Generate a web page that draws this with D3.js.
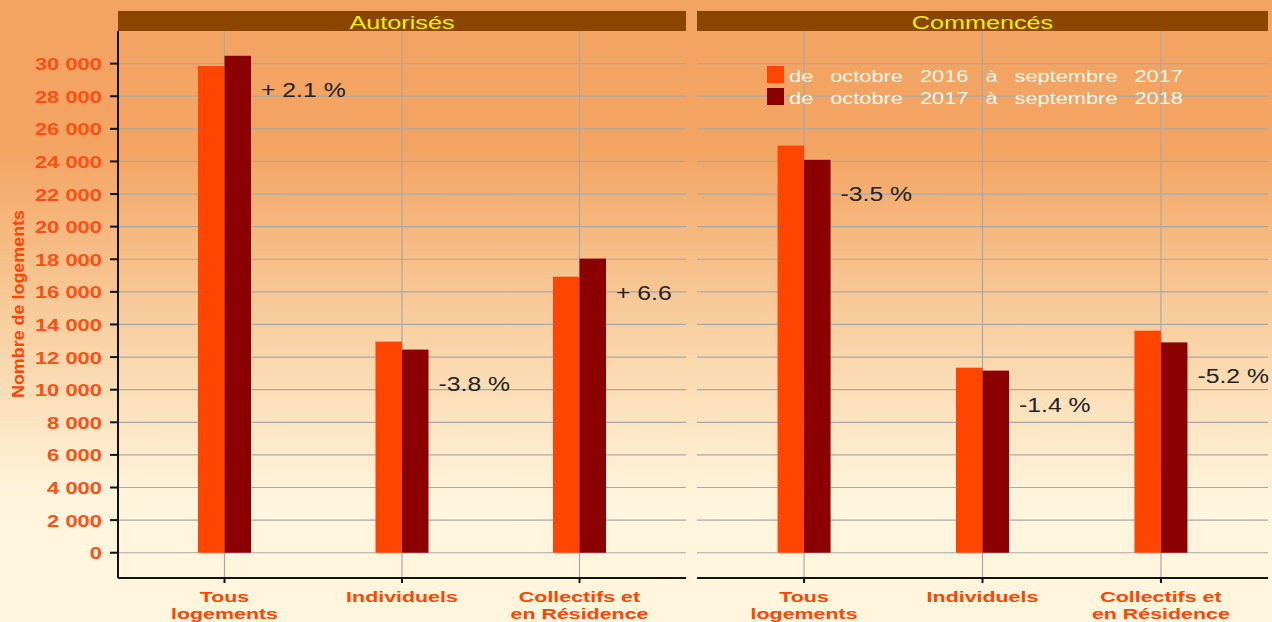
<!DOCTYPE html>
<html>
<head>
<meta charset="utf-8">
<script src="https://cdn.jsdelivr.net/npm/d3@7"></script>
<style>
  body { margin: 0; padding: 0; overflow: hidden; }
  svg { display: block; font-family: "Liberation Sans", Arial, sans-serif; }
</style>
</head>
<body>
<svg id="chart"></svg>
<script>
// data
const categories = ['Tous logements', 'Individuels', 'Collectifs et en Résidence'];
const catLines = [['Tous', 'logements'], ['Individuels'], ['Collectifs et', 'en Résidence']];
const seriesNames = ['de octobre 2016 à septembre 2017', 'de octobre 2017 à septembre 2018'];
const seriesColors = ['#ff4500', '#8b0000'];
const panels = ['Autorisés', 'Commencés'];
const autorises1617 = [29850, 12950, 16930];
const autorises1718 = [30480, 12460, 18040];
const commences1617 = [24970, 11350, 13620];
const commences1718 = [24100, 11170, 12900];
const autorisesPct = ['+ 2.1 %', '-3.8 %', '+ 6.6 %'];
const commencesPct = ['-3.5 %', '-1.4 %', '-5.2 %'];
const yTicks = d3.range(0, 30001, 2000);

const width = 1272;
const height = 622;

const svg = d3.select('#chart')
  .attr('width', width)
  .attr('height', height);

// the original picture has wide, stretched lettering
function stretch(sel, sx) {
  sel.each(function() {
    const len = this.getComputedTextLength();
    d3.select(this)
      .attr('textLength', len * sx)
      .attr('lengthAdjust', 'spacingAndGlyphs');
  });
}

// background gradient
const defs = svg.append('defs');
const grad = defs.append('linearGradient')
  .attr('id', 'bg')
  .attr('x1', 0).attr('y1', 0).attr('x2', 0).attr('y2', 1);
grad.append('stop').attr('offset', '0%').attr('stop-color', '#f3a462');
grad.append('stop').attr('offset', '24%').attr('stop-color', '#f3a462');
grad.append('stop').attr('offset', '55%').attr('stop-color', '#f9d3a6');
grad.append('stop').attr('offset', '80%').attr('stop-color', '#fff5dc');
grad.append('stop').attr('offset', '100%').attr('stop-color', '#fff6dd');

svg.append('rect')
  .attr('width', width)
  .attr('height', height)
  .attr('fill', 'url(#bg)');

const plotTop = 31;
const plotBottom = 578;
const y = d3.scaleLinear().domain([-1550, 32000]).range([plotBottom, plotTop]);

const loc = d3.formatLocale({ decimal: ',', thousands: ' ', grouping: [3], currency: ['', ''] });
const fmt = loc.format(',');

const panelDefs = [
  { title: panels[0], x0: 118, x1: 686, v1: autorises1617, v2: autorises1718, pct: autorisesPct, clipW: 561 },
  { title: panels[1], x0: 697, x1: 1268, v1: commences1617, v2: commences1718, pct: commencesPct, clipW: 575 }
];

panelDefs.forEach(function(p, i) {
  const w = p.x1 - p.x0;
  const x = d3.scalePoint().domain(categories).range([0, w]).padding(0.6);
  const xs = d3.scaleBand().domain(seriesNames).range([-26.5, 26.5]);

  defs.append('clipPath').attr('id', 'clip' + i)
    .append('rect')
    .attr('x', 0).attr('y', plotTop).attr('width', p.clipW).attr('height', plotBottom - plotTop);

  const g = svg.append('g').attr('transform', 'translate(' + p.x0 + ',0)');

  // header strip
  g.append('rect')
    .attr('x', 0).attr('y', 11)
    .attr('width', w).attr('height', 20)
    .attr('fill', '#8b4500');
  g.append('text')
    .attr('x', w / 2).attr('y', 29)
    .attr('text-anchor', 'middle')
    .attr('font-size', 18)
    .attr('fill', '#f0f000')
    .text(p.title)
    .call(stretch, 1.4);

  // grid
  g.selectAll('.hgrid')
    .data(yTicks)
    .enter()
    .append('line')
    .attr('x1', 0).attr('x2', w)
    .attr('y1', function(d) { return y(d); })
    .attr('y2', function(d) { return y(d); })
    .attr('stroke', '#a8a8a8')
    .attr('stroke-width', 1.2);

  g.selectAll('.vgrid')
    .data(categories)
    .enter()
    .append('line')
    .attr('x1', function(d) { return x(d); })
    .attr('x2', function(d) { return x(d); })
    .attr('y1', plotTop).attr('y2', plotBottom)
    .attr('stroke', '#a8a8a8')
    .attr('stroke-width', 1.2);

  // bars
  const rows = [p.v1, p.v2];
  rows.forEach(function(vals, s) {
    g.selectAll('.bar' + s)
      .data(categories)
      .enter()
      .append('rect')
      .attr('x', function(d) { return x(d) + xs(seriesNames[s]); })
      .attr('width', xs.bandwidth())
      .attr('y', function(d, k) { return y(vals[k]); })
      .attr('height', function(d, k) { return y(0) - y(vals[k]); })
      .attr('fill', seriesColors[s]);
  });

  // change labels
  g.append('g')
    .attr('clip-path', 'url(#clip' + i + ')')
    .selectAll('text')
    .data(categories)
    .enter()
    .append('text')
    .attr('x', function(d) { return x(d) + 26.5 + 10; })
    .attr('y', function(d, k) { return y(p.v2[k]) + 41; })
    .attr('font-size', 19.5)
    .attr('fill', '#222')
    .text(function(d, k) { return p.pct[k]; })
    .call(stretch, 1.27);

  // x axis
  g.append('line')
    .attr('x1', 0).attr('x2', w)
    .attr('y1', plotBottom).attr('y2', plotBottom)
    .attr('stroke', '#111').attr('stroke-width', 2);
  g.selectAll('.xtick')
    .data(categories)
    .enter()
    .append('line')
    .attr('x1', function(d) { return x(d); })
    .attr('x2', function(d) { return x(d); })
    .attr('y1', plotBottom).attr('y2', plotBottom + 5)
    .attr('stroke', '#111').attr('stroke-width', 2);

  categories.forEach(function(c, k) {
    g.selectAll(null)
      .data(catLines[k])
      .enter()
      .append('text')
      .attr('x', x(c))
      .attr('y', function(t, j) { return 602 + j * 17; })
      .attr('text-anchor', 'middle')
      .attr('font-size', 15.5)
      .attr('font-weight', 'bold')
      .attr('fill', '#ff4500')
      .text(function(t) { return t; })
      .call(stretch, 1.38);
  });
});

// y axis on the left panel
const yAxis = svg.append('g');
yAxis.append('line')
  .attr('x1', 118).attr('x2', 118)
  .attr('y1', plotTop).attr('y2', plotBottom)
  .attr('stroke', '#111').attr('stroke-width', 2);
yAxis.selectAll('.ytick')
  .data(yTicks)
  .enter()
  .append('line')
  .attr('x1', 110).attr('x2', 118)
  .attr('y1', function(d) { return y(d); })
  .attr('y2', function(d) { return y(d); })
  .attr('stroke', '#111').attr('stroke-width', 2);
yAxis.selectAll('.ylab')
  .data(yTicks)
  .enter()
  .append('text')
  .attr('x', 102)
  .attr('y', function(d) { return y(d) + 6.5; })
  .attr('text-anchor', 'end')
  .attr('font-size', 17)
  .attr('font-weight', 'bold')
  .attr('fill', '#ff4f14')
  .text(function(d) { return fmt(d); })
  .call(stretch, 1.29);

svg.append('text')
  .attr('transform', 'translate(24,304) rotate(-90)')
  .attr('text-anchor', 'middle')
  .attr('font-family', '"Liberation Sans Narrow", "Arial Narrow", sans-serif')
  .attr('font-size', 17)
  .attr('font-weight', 'bold')
  .attr('fill', '#ff4500')
  .attr('textLength', 188)
  .attr('lengthAdjust', 'spacingAndGlyphs')
  .text('Nombre de logements');

// legend
const legend = svg.append('g').attr('transform', 'translate(767,66)');
legend.selectAll('rect')
  .data(seriesNames)
  .enter()
  .append('rect')
  .attr('x', 0)
  .attr('y', function(d, k) { return k * 22; })
  .attr('width', 17).attr('height', 17)
  .attr('fill', function(d, k) { return seriesColors[k]; });
legend.selectAll('text')
  .data(seriesNames)
  .enter()
  .append('text')
  .attr('x', 22)
  .attr('y', function(d, k) { return k * 22 + 16; })
  .attr('font-size', 16)
  .attr('word-spacing', 8)
  .attr('fill', '#fff8ec')
  .attr('textLength', 394)
  .attr('lengthAdjust', 'spacingAndGlyphs')
  .text(function(d) { return d; });
</script>
</body>
</html>
